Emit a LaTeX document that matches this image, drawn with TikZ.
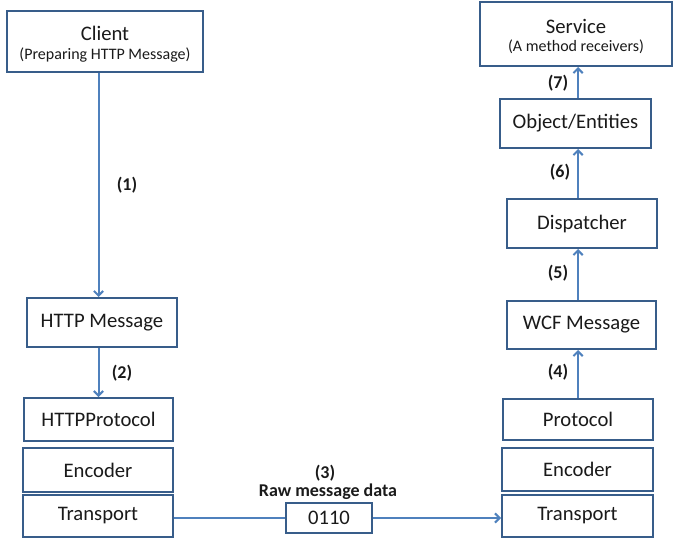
\documentclass[tikz,border=0pt]{standalone}
\usepackage{fontspec}
\setmainfont{Carlito}
\usetikzlibrary{arrows.meta}
\definecolor{boxline}{HTML}{385D8A}
\definecolor{arrline}{HTML}{4F81BD}
\definecolor{txt}{HTML}{1A1A1A}
\begin{document}
\begin{tikzpicture}[x=0.75pt,y=-0.75pt,
  box/.style={draw=boxline,line width=1.5pt,fill=white,inner sep=0pt,align=center,text=txt,font=\fontsize{15.5}{17}\selectfont},
  arr/.style={draw=arrline,line width=1.5pt,-{Straight Barb[length=3.5pt,width=7pt]}},
  lbl/.style={font=\bfseries\fontsize{13.5}{15}\selectfont,text=txt,inner sep=0pt}]
\useasboundingbox (0,0) rectangle (674,538);
% left column
\node[box,minimum width=196*0.75pt,minimum height=61*0.75pt] (client) at (105,41.5) {};
\node[text=txt,font=\fontsize{15.5}{17}\selectfont,inner sep=0pt] (clientt) at (105,33) {Client};
\node[text=txt,font=\fontsize{12}{13}\selectfont,inner sep=0pt] (clients) at (105,55) {(Preparing HTTP Message)};
\node[box,minimum width=150*0.75pt,minimum height=49*0.75pt] (httpmsg) at (102,322.5) {HTTP Message};
\node[box,minimum width=149*0.75pt,minimum height=43*0.75pt] (htprot) at (98.5,419.5) {HTTPProtocol};
\node[box,minimum width=150*0.75pt,minimum height=44*0.75pt] (encl) at (98,470) {Encoder};
\node[box,minimum width=150*0.75pt,minimum height=42*0.75pt] (transl) at (98,515.5) {Transport};
% right column
\node[box,minimum width=192*0.75pt,minimum height=64*0.75pt] (service) at (576,34) {};
\node[text=txt,font=\fontsize{15.5}{17}\selectfont,inner sep=0pt] (servicet) at (576,26) {Service};
\node[text=txt,font=\fontsize{12}{13}\selectfont,inner sep=0pt] (services) at (576,47) {(A method receivers)};
\node[box,minimum width=151*0.75pt,minimum height=49*0.75pt] (obj) at (575.5,123.5) {Object/Entities};
\node[box,minimum width=150*0.75pt,minimum height=49*0.75pt] (disp) at (582,223.5) {Dispatcher};
\node[box,minimum width=149*0.75pt,minimum height=48*0.75pt] (wcf) at (581.5,325) {WCF Message};
\node[box,minimum width=150*0.75pt,minimum height=41*0.75pt] (prot) at (578,419.5) {Protocol};
\node[box,minimum width=151*0.75pt,minimum height=43*0.75pt] (encr) at (577.5,469.5) {Encoder};
\node[box,minimum width=151*0.75pt,minimum height=42*0.75pt] (transr) at (577.5,515.5) {Transport};
% middle data box
\node[box,minimum width=86*0.75pt,minimum height=30*0.75pt] (data) at (329,518) {0110};
% connectors
\draw[arr] (client.south -| htprot.north) -- (httpmsg.north -| htprot.north);
\draw[arr] (httpmsg.south -| htprot.north) -- (htprot.north);
\draw[draw=arrline,line width=1.5pt] (transl.east |- data.west) -- (data.west);
\draw[arr] (data.east) -- (data.east -| transr.west);
\draw[arr] (prot.north) -- (wcf.south -| prot.north);
\draw[arr] (wcf.north -| prot.north) -- (disp.south -| prot.north);
\draw[arr] (disp.north -| prot.north) -- (obj.south -| prot.north);
\draw[arr] (obj.north -| prot.north) -- (service.south -| prot.north);
% labels
\node[lbl] (l1) at (127,185) {(1)};
\node[lbl] (l2) at (122,373) {(2)};
\node[lbl] (l3) at (325,473) {(3)};
\node[lbl] (lraw) at (328,492) {Raw message data};
\node[lbl] (l7) at (558,83) {(7)};
\node[lbl] (l6) at (560,172) {(6)};
\node[lbl] (l5) at (558,273) {(5)};
\node[lbl] (l4) at (558,372) {(4)};
\end{tikzpicture}
\end{document}
